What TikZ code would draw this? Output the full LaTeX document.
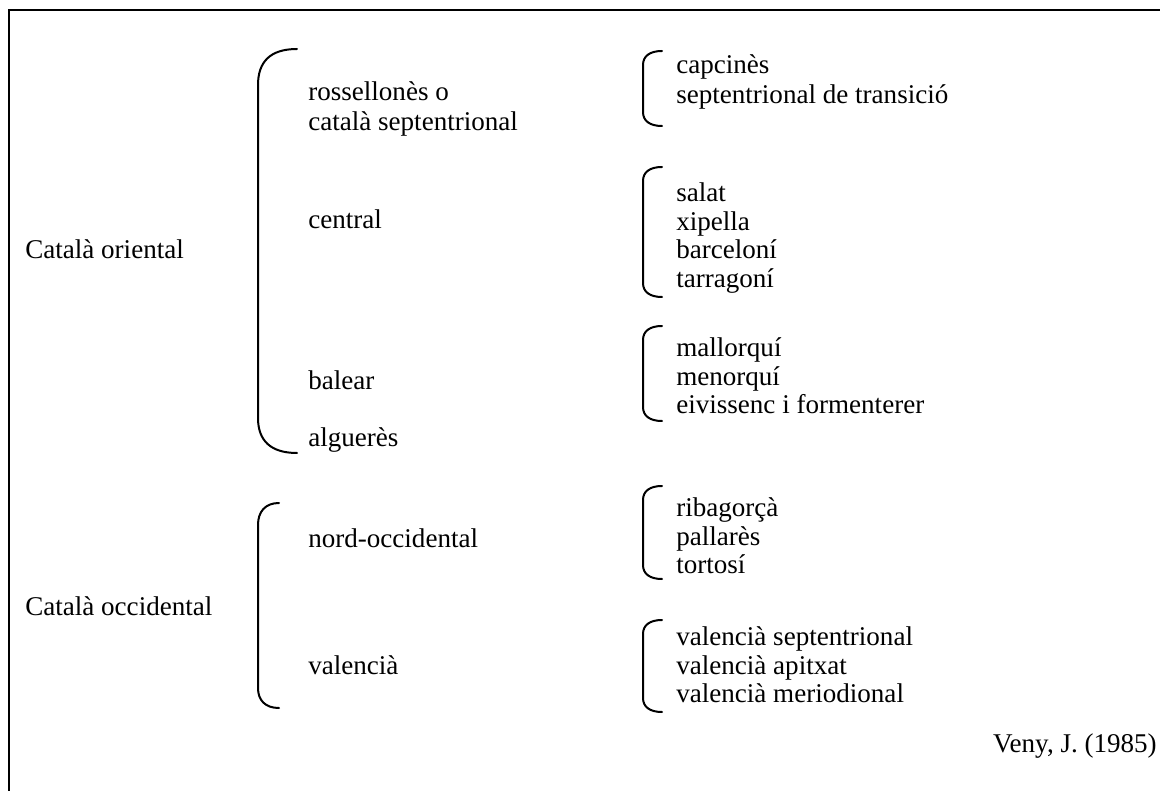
\documentclass[tikz,border=0pt]{standalone}
\usepackage{fontspec}
\setmainfont{Liberation Serif}
\begin{document}
\begin{tikzpicture}[x=0.75pt,y=-0.75pt,
  lbl/.style={anchor=west,inner sep=0pt,align=left,font=\fontsize{20.3pt}{21.5pt}\selectfont},
  brc/.style={line width=1.5pt,line cap=round},
  frame/.style={line width=2.2pt}]
\useasboundingbox (0,0) rectangle (1160,791);
\fill[white] (0,0) rectangle (1160,791);
% frame (top and left edges visible)
\coordinate (f1) at (9,1170);
\coordinate (f2) at (9,10);
\coordinate (f3) at (1200,10);
\draw[frame] (f1) -- (f2) -- (f3);
% left labels
\node[lbl] (or) at (25,249) {Català oriental};
\node[lbl] (oc) at (25,606) {Català occidental};
% middle labels
\node[lbl,font=\fontsize{20.3pt}{22.5pt}\selectfont] (ros) at (308,109) {rossellonès o\\català septentrional};
\node[lbl] (cen) at (308,219) {central};
\node[lbl] (bal) at (308,380) {balear};
\node[lbl] (alg) at (308,440) {alguerès};
\node[lbl] (nor) at (308,538) {nord-occidental};
\node[lbl] (val) at (308,665) {valencià};
% right labels
\node[lbl,font=\fontsize{20.3pt}{22.5pt}\selectfont] (g1) at (676,82) {capcinès\\septentrional de transició};
\node[lbl] (g2) at (676,238) {salat\\xipella\\barceloní\\tarragoní};
\node[lbl] (g3) at (676,376) {mallorquí\\menorquí\\eivissenc i formenterer};
\node[lbl] (g4) at (676,536) {ribagorçà\\pallarès\\tortosí};
\node[lbl] (g5) at (676,665) {valencià septentrional\\valencià apitxat\\valencià meriodional};
\node[anchor=east,inner sep=0pt,font=\fontsize{20.3pt}{21pt}\selectfont] (ref) at (1157,746) {Veny, J. (1985)};
% big braces
\draw[brc] (297,49) .. controls (270,49) and (258,62) .. (258,85) -- (258,418) .. controls (258,440) and (270,453) .. (297,453);
\draw[brc] (279,503) .. controls (265,503) and (258,512) .. (258,525) -- (258,688) .. controls (258,700) and (265,708) .. (279,708);
% small braces
\newcommand{\smallbrace}[2]{\draw[brc] (662,#1) .. controls (650,#1) and (643,#1+5) .. (643,#1+14) -- (643,#2-14) .. controls (643,#2-5) and (650,#2) .. (662,#2);}
\smallbrace{51}{126}
\smallbrace{167}{297}
\smallbrace{326}{421}
\smallbrace{486}{579}
\smallbrace{620}{712}
\end{tikzpicture}
\end{document}
